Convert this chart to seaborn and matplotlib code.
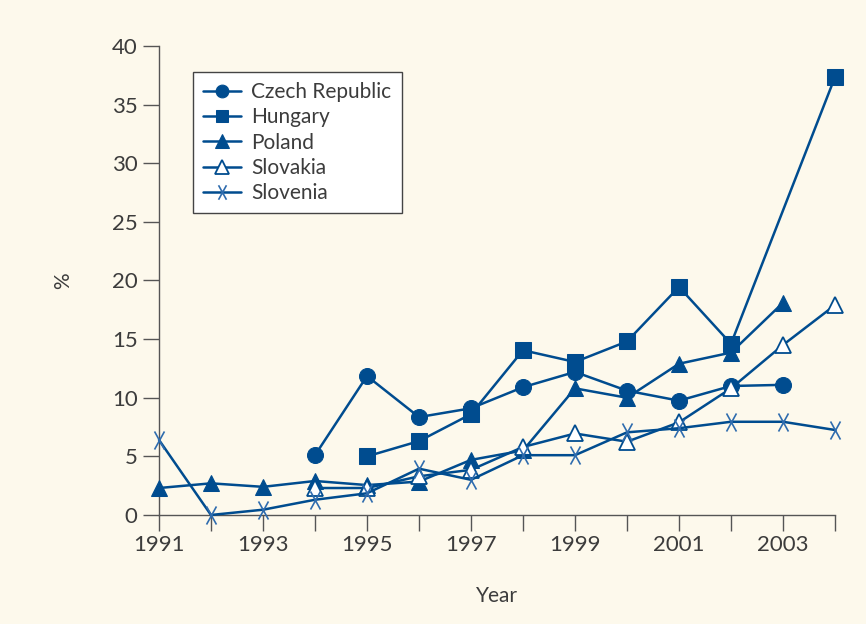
import numpy as np
import pandas as pd
import matplotlib
matplotlib.use("Agg")
import matplotlib.pyplot as plt
from matplotlib.path import Path
import seaborn as sns

# --- data ---
years = list(range(1991, 2005))
nan = np.nan
czech    = [nan, nan, nan, 5.1, 11.85, 8.35, 9.1, 10.9, 12.2, 10.6, 9.75, 11.0, 11.1, nan]
hungary  = [nan, nan, nan, nan, 5.0, 6.3, 8.6, 14.05, 13.05, 14.8, 19.45, 14.6, nan, 37.35]
poland   = [2.3, 2.7, 2.4, 2.9, 2.55, 2.85, 4.7, 5.5, 10.8, 10.0, 12.9, 13.85, 18.1, nan]
slovakia = [nan, nan, nan, 2.3, 2.3, 3.3, 3.85, 5.8, 6.95, 6.25, 7.9, 10.8, 14.5, 17.9]
slovenia = [6.4, 0.0, 0.45, 1.3, 1.85, 3.95, 3.0, 5.1, 5.1, 7.05, 7.4, 7.95, 7.95, 7.25]

countries = ["Czech Republic", "Hungary", "Poland", "Slovakia", "Slovenia"]
series = [czech, hungary, poland, slovakia, slovenia]

BG = "#FDF9EC"
BLUE = "#004C8F"
AX = "#555555"
TXT = "#3c3c3c"

# narrow, tall cross like the one in the original
tall_x = Path([(-0.55, -1), (0.55, 1), (-0.55, 1), (0.55, -1)],
              [Path.MOVETO, Path.LINETO, Path.MOVETO, Path.LINETO])

sns.set_theme(style="white")
plt.rcParams["font.family"] = ["Lato", "DejaVu Sans"]

fig = plt.figure(figsize=(8.66, 6.24), dpi=100, facecolor=BG)
ax = fig.add_axes([0.1836, 0.1747, 0.7806, 0.7516])
ax.set_facecolor(BG)

styles = {
    "Czech Republic": dict(marker="o", markersize=11.5, markerfacecolor=BLUE, markeredgecolor=BLUE),
    "Hungary": dict(marker="s", markersize=11, markerfacecolor=BLUE, markeredgecolor=BLUE),
    "Poland": dict(marker="^", markersize=12, markerfacecolor=BLUE, markeredgecolor=BLUE),
    "Slovakia": dict(marker="^", markersize=12, markerfacecolor="white", markeredgecolor=BLUE,
                     markeredgewidth=1.3),
    "Slovenia": dict(marker=tall_x, markersize=13, markerfacecolor="none",
                     markeredgecolor="#2F6CAE", markeredgewidth=1.2),
}

for name, vals in zip(countries, series):
    df = pd.DataFrame({"Year": years, "%": vals}).dropna()
    sns.lineplot(data=df, x="Year", y="%", ax=ax, color=BLUE, linewidth=1.8,
                 label=name, clip_on=False, zorder=3, **styles[name])

ax.set_xlim(1991, 2004)
ax.set_ylim(0, 40)
ax.set_xticks(years)
ax.set_xticklabels([str(y) if y % 2 == 1 else "" for y in years])
ax.set_yticks(range(0, 41, 5))

for s in ["top", "right"]:
    ax.spines[s].set_visible(False)
for s in ["left", "bottom"]:
    ax.spines[s].set_color(AX)
    ax.spines[s].set_linewidth(1.0)

ax.tick_params(axis="both", direction="out", length=11.5, width=1.0, color=AX,
               labelsize=16, labelcolor=TXT, bottom=True, left=True)
ax.tick_params(axis="x", pad=3)
ax.tick_params(axis="y", pad=4)

ax.set_xlabel("Year", fontsize=15, color=TXT, labelpad=22)
ax.set_ylabel("%", fontsize=15, color=TXT, labelpad=28)

leg = ax.legend(loc="upper left", bbox_to_anchor=(0.05, 0.945), frameon=True, fancybox=False,
                framealpha=1, facecolor="white", edgecolor="#444444", fontsize=15,
                markerscale=0.8, handlelength=1.8, handletextpad=0.5, labelspacing=0.25,
                borderpad=0.5, borderaxespad=0)
leg.get_frame().set_linewidth(1.0)
for t in leg.get_texts():
    t.set_color(TXT)

fig.savefig("out.png", dpi=100, facecolor=BG)
